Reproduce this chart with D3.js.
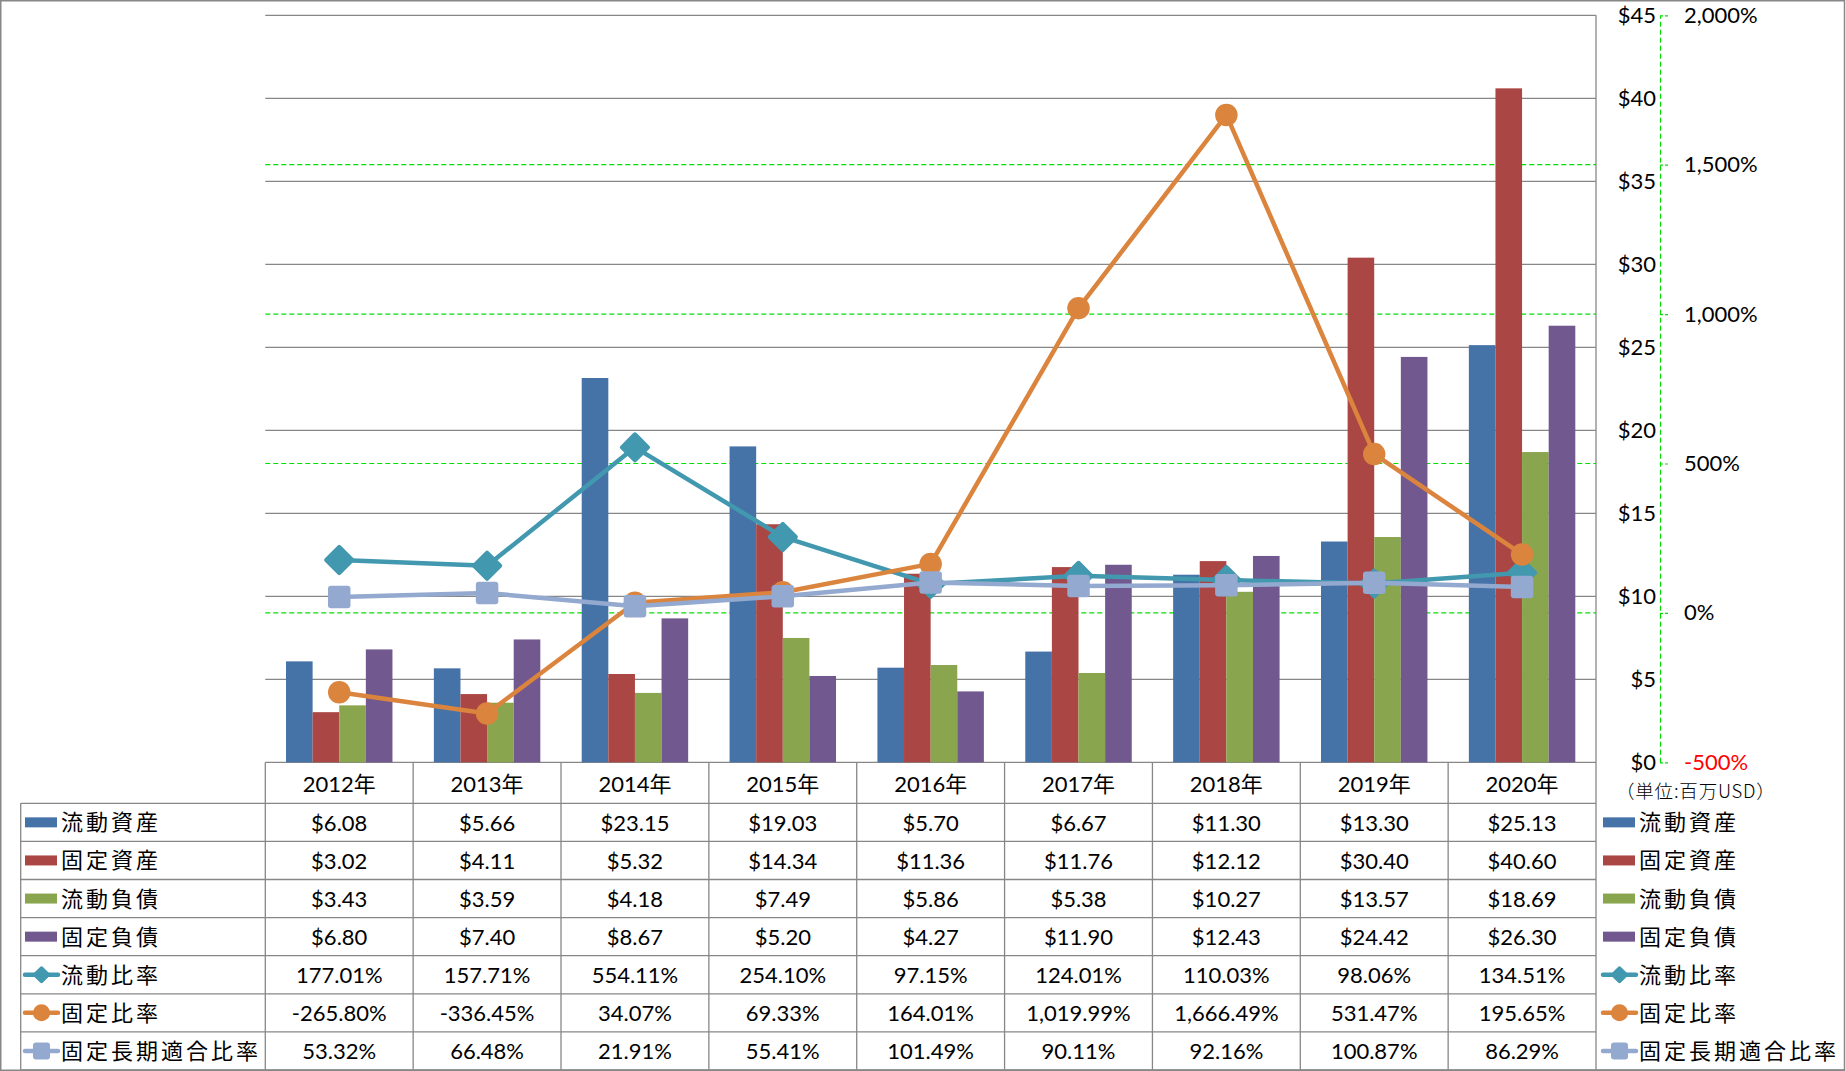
<!DOCTYPE html>
<html><head><meta charset="utf-8">
<script src="https://cdn.jsdelivr.net/npm/d3@7"></script>
<style>body{margin:0;background:#fff;overflow:hidden} svg{display:block}</style>
</head><body><svg id="c" width="1846" height="1071"></svg>
<script>
// ---------- data ----------
const years = ["2012年","2013年","2014年","2015年","2016年","2017年","2018年","2019年","2020年"];
const currentAssets = [6.08,5.66,23.15,19.03,5.70,6.67,11.30,13.30,25.13];
const fixedAssets   = [3.02,4.11,5.32,14.34,11.36,11.76,12.12,30.40,40.60];
const currentLiab   = [3.43,3.59,4.18,7.49,5.86,5.38,10.27,13.57,18.69];
const fixedLiab     = [6.80,7.40,8.67,5.20,4.27,11.90,12.43,24.42,26.30];
const currentRatio  = [177.01,157.71,554.11,254.10,97.15,124.01,110.03,98.06,134.51];
const fixedRatio    = [-265.80,-336.45,34.07,69.33,164.01,1019.99,1666.49,531.47,195.65];
const fixedLongRatio= [53.32,66.48,21.91,55.41,101.49,90.11,92.16,100.87,86.29];
const barNames  = ["流動資産","固定資産","流動負債","固定負債"];
const lineNames = ["流動比率","固定比率","固定長期適合比率"];
const leftTicks  = [0,5,10,15,20,25,30,35,40,45];
const rightTicks = [-500,0,500,1000,1500,2000];
const unitLabel = "（単位:百万USD）";

// ---------- styles ----------
const barColors  = ["#4572A7","#AA4643","#89A54E","#71588F"];
const lineColors = ["#4198AF","#DB843D","#93A9CF"];
const markers    = ["diamond","circle","square"];
const gridGray = "#878787";
const green = "#00e000";
const numFont = "Lato, 'Noto Sans CJK JP', sans-serif";
const jpFont = "'Noto Sans CJK JP', sans-serif";

const barSeries  = [currentAssets, fixedAssets, currentLiab, fixedLiab];
const lineSeries = [currentRatio, fixedRatio, fixedLongRatio];

const loc = d3.formatLocale({decimal:".", thousands:",", grouping:[3], currency:["$",""], minus:"-"});
const fMoney = v => "$" + loc.format(".2f")(v);
const fPct = v => loc.format(",.2f")(v) + "%";
const fAxisL = v => "$" + v;
const fAxisR = v => loc.format(",.0f")(v) + "%";

// ---------- layout ----------
const plotL = 265.3, plotR = 1596, plotT = 15.3, plotB = 762.3;
const axisX = 1660;
const headerB = 803.3, rowH = 38.1;
const legL = 20.7, frameR = 1844.5, tableB = 1069.8;

const svg = d3.select("#c");

// frame
svg.append("rect").attr("x",0.75).attr("y",0.75).attr("width",frameR-0.75).attr("height",1069.5)
  .attr("fill","none").attr("stroke",gridGray).attr("stroke-width",1.5);

const x = d3.scaleBand().domain(years).range([plotL, plotR]).paddingInner(0).paddingOuter(0);
const bw = x.bandwidth();
const xs = d3.scaleBand().domain(barNames).range([bw*0.14, bw*0.86]).padding(0);
const yL = d3.scaleLinear().domain([0,45]).range([plotB, plotT]);
const yR = d3.scaleLinear().domain([-500,2000]).range([plotB, plotT]);

// gray gridlines
svg.append("g").selectAll("line").data(leftTicks).join("line")
  .attr("x1",plotL).attr("x2",plotR).attr("y1",d=>yL(d)).attr("y2",d=>yL(d))
  .attr("stroke",gridGray).attr("stroke-width",1.3);
// green dashed gridlines
svg.append("g").selectAll("line").data(rightTicks.filter(d=>d>-500 && d<2000)).join("line")
  .attr("x1",plotL).attr("x2",plotR).attr("y1",d=>yR(d)).attr("y2",d=>yR(d))
  .attr("stroke",green).attr("stroke-width",1.2).attr("stroke-dasharray","5,3");

// bars
barSeries.forEach((vals,si)=>{
  svg.append("g").selectAll("rect").data(vals).join("rect")
    .attr("x",(d,i)=>x(years[i])+xs(barNames[si]))
    .attr("width",xs.bandwidth())
    .attr("y",d=>yL(d)).attr("height",d=>yL(0)-yL(d))
    .attr("fill",barColors[si]);
});

// marker helper
function marker(g, type, cx, cy, s, color){
  if(type==="diamond"){
    g.append("rect").attr("x",cx-s/2).attr("y",cy-s/2).attr("width",s).attr("height",s)
      .attr("rx",2).attr("transform",`rotate(45 ${cx} ${cy})`).attr("fill",color);
  } else if(type==="circle"){
    g.append("circle").attr("cx",cx).attr("cy",cy).attr("r",s/2).attr("fill",color);
  } else {
    g.append("rect").attr("x",cx-s/2).attr("y",cy-s/2).attr("width",s).attr("height",s)
      .attr("rx",3).attr("fill",color);
  }
}
const mSize = [22.5, 22.5, 22.5];
const mSizeLeg = [13, 17, 17];

// lines
lineSeries.forEach((vals,si)=>{
  const g = svg.append("g");
  const line = d3.line().x((d,i)=>x(years[i])+bw/2).y(d=>yR(d));
  g.append("path").datum(vals).attr("d",line).attr("fill","none")
    .attr("stroke",lineColors[si]).attr("stroke-width",4.5).attr("stroke-linejoin","round");
  vals.forEach((v,i)=>marker(g, markers[si], x(years[i])+bw/2, yR(v), mSize[si], lineColors[si]));
});

// left $ axis labels
const axL = svg.append("g").attr("transform",`translate(${axisX},0)`)
  .call(d3.axisLeft(yL).tickValues(leftTicks).tickFormat(fAxisL).tickSize(0).tickPadding(4));
axL.select(".domain").remove();
axL.selectAll("text").attr("font-family",numFont).attr("font-size",22).attr("fill","#000");

// right % axis
const axR = svg.append("g").attr("transform",`translate(${axisX},0)`)
  .call(d3.axisRight(yR).tickValues(rightTicks).tickFormat(fAxisR).tickSize(9).tickPadding(15).tickSizeOuter(0));
axR.select(".domain").attr("stroke",green).attr("stroke-width",1.2).attr("stroke-dasharray","5,3");
axR.selectAll(".tick line").attr("stroke",green).attr("stroke-width",1.2).attr("stroke-dasharray","3,2");
axR.selectAll("text").attr("font-family",numFont).attr("font-size",22)
  .attr("fill",d=>d<0?"#ff0000":"#000");

// unit label
svg.append("text").attr("x",1616).attr("y",790).attr("dominant-baseline","central")
  .attr("font-family",jpFont).attr("font-weight",300).attr("font-size",18.5).attr("letter-spacing","0.8px").text(unitLabel);

// ---------- table ----------
const tg = svg.append("g");
const rowsY = d3.range(8).map(i=>headerB + i*rowH);
// vertical lines
const colEdges = years.map(y=>x(y)).concat([plotR]);
tg.selectAll("line.v").data(colEdges).join("line").attr("class","v")
  .attr("x1",d=>d).attr("x2",d=>d).attr("y1",(d,i)=>i===colEdges.length-1?plotT:plotB).attr("y2",tableB)
  .attr("stroke",gridGray).attr("stroke-width",1.3);
// left legend column border
tg.append("line").attr("x1",legL).attr("x2",legL).attr("y1",headerB).attr("y2",tableB)
  .attr("stroke",gridGray).attr("stroke-width",1.3);
// horizontal lines
tg.selectAll("line.h").data(rowsY).join("line").attr("class","h")
  .attr("x1",legL).attr("x2",(d,i)=>i===rowsY.length-1?frameR:plotR).attr("y1",d=>d).attr("y2",d=>d)
  .attr("stroke",gridGray).attr("stroke-width",1.3);

// header years
tg.selectAll("text.yr").data(years).join("text").attr("class","yr")
  .attr("x",d=>x(d)+bw/2).attr("y",(plotB+headerB)/2+1).attr("text-anchor","middle")
  .attr("dominant-baseline","central").attr("font-family",numFont).attr("font-size",22).text(d=>d);

// data rows
const rowVals = barSeries.map(s=>s.map(fMoney)).concat(lineSeries.map(s=>s.map(fPct)));
const rowNames = barNames.concat(lineNames);
rowVals.forEach((vals,ri)=>{
  const cy = rowsY[ri] + rowH/2;
  tg.append("g").selectAll("text").data(vals).join("text")
    .attr("x",(d,i)=>x(years[i])+bw/2).attr("y",cy).attr("text-anchor","middle")
    .attr("dominant-baseline","central").attr("font-family",numFont).attr("font-size",22).text(d=>d);
});

// legend keys (left table + right legend)
function legendKey(x0, ri){
  const cy = rowsY[ri] + rowH/2;
  const g = tg.append("g");
  if(ri<4){
    g.append("rect").attr("x",x0).attr("y",cy-5).attr("width",32).attr("height",10).attr("fill",barColors[ri]);
  } else {
    const li = ri-4;
    g.append("line").attr("x1",x0).attr("x2",x0+33).attr("y1",cy).attr("y2",cy)
      .attr("stroke",lineColors[li]).attr("stroke-width",4.5).attr("stroke-linecap","round");
    marker(g, markers[li], x0+16.5, cy, mSizeLeg[li], lineColors[li]);
  }
  g.append("text").attr("x",x0+36).attr("y",cy-2).attr("dominant-baseline","central")
    .attr("font-family",jpFont).attr("font-size",22).attr("letter-spacing","3px").text(rowNames[ri]);
}
rowNames.forEach((n,ri)=>{ legendKey(25, ri); legendKey(1603, ri); });
</script></body></html>
